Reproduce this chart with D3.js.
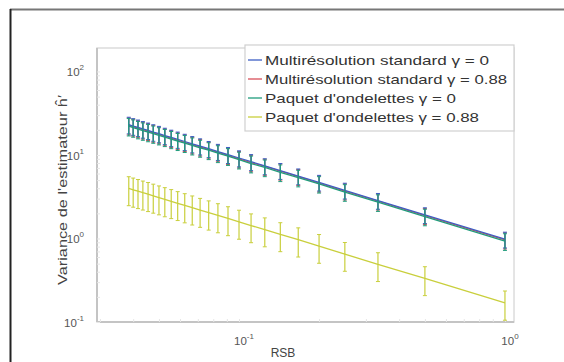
<!DOCTYPE html>
<html><head><meta charset="utf-8">
<script src="https://cdn.jsdelivr.net/npm/d3@7"></script>
<style>body{margin:0;background:#fff}svg{display:block}text{font-family:"Liberation Sans",Arial,sans-serif}</style>
</head><body><svg id="c" width="564" height="362"></svg>
<script>
const rsb = [1.0,0.5,0.333,0.25,0.2,0.167,0.143,0.125,0.111,0.1,0.0909,0.0833,0.0769,0.0714,0.0667,0.0625,0.0588,0.0556,0.0526,0.05,0.0476,0.0455,0.0435,0.0417,0.04,0.0385];
const stdG0   = [0.98,1.92,2.85,3.78,4.7,5.6,6.5,7.4,8.3,9.2,10.1,11.0,11.9,12.8,13.6,14.5,15.4,16.2,17.1,18.0,18.8,19.7,20.5,21.4,22.2,23.1];
const stdG88  = [0.96,1.88,2.8,3.7,4.6,5.5,6.4,7.3,8.1,9.0,9.9,10.8,11.6,12.5,13.3,14.2,15.0,15.9,16.7,17.6,18.4,19.3,20.1,20.9,21.8,22.6];
const wpG0    = [0.93,1.83,2.72,3.6,4.5,5.35,6.2,7.1,7.9,8.8,9.7,10.5,11.4,12.2,13.0,13.9,14.7,15.5,16.4,17.2,18.0,18.8,19.6,20.4,21.3,22.1];
const wpG88   = [0.17,0.333,0.49,0.65,0.81,0.97,1.12,1.28,1.43,1.58,1.74,1.89,2.04,2.19,2.34,2.49,2.64,2.79,2.94,3.09,3.24,3.39,3.53,3.68,3.83,3.98];
const errStd  = [0.21,0.41,0.61,0.81,1.0,1.2,1.4,1.6,1.8,2.0,2.2,2.4,2.6,2.8,3.0,3.2,3.4,3.6,3.8,4.0,4.2,4.4,4.6,4.8,5.0,5.2];
const errWp88 = [0.065,0.126,0.185,0.245,0.305,0.37,0.425,0.485,0.54,0.6,0.66,0.72,0.78,0.83,0.89,0.95,1.0,1.06,1.12,1.17,1.23,1.29,1.34,1.4,1.46,1.51];
const labels = ["Multirésolution standard \u03b3 = 0","Multirésolution standard \u03b3 = 0.88","Paquet d'ondelettes \u03b3 = 0","Paquet d'ondelettes \u03b3 = 0.88"];
const labelWidths = [224,242,191,214];
const colors = ["#3d5fc4","#d9505a","#1f9c7c","#c9cf3c"];
const yTicks = [-1,0,1,2];
const xTicks = [-1,0];

const svg = d3.select("#c");
// outer frame
svg.append("line").attr("x1",10).attr("y1",9.5).attr("x2",564).attr("y2",9.5).attr("stroke","#777").attr("stroke-width",2);
svg.append("line").attr("x1",10.5).attr("y1",9).attr("x2",10.5).attr("y2",362).attr("stroke","#222").attr("stroke-width",2);

const L=97,R=514,T=48,B=322;
const x = d3.scaleLog().domain([Math.pow(10,-1.534),Math.pow(10,0.034)]).range([L,R]);
const y = d3.scaleLog().domain([0.1,Math.pow(10,2.281)]).range([B,T]);

// box
svg.append("rect").attr("x",L).attr("y",T).attr("width",R-L).attr("height",B-T).attr("fill","none").attr("stroke","#dcdcdc").attr("stroke-width",1.5);
svg.append("line").attr("x1",L).attr("x2",L).attr("y1",T).attr("y2",B).attr("stroke","#c4c4c4").attr("stroke-width",2);
svg.append("line").attr("x1",L).attr("x2",R).attr("y1",B).attr("y2",B).attr("stroke","#c4c4c4").attr("stroke-width",2);

// axes ticks (inward, MATLAB style)
const yAxis = d3.axisRight(y).tickValues(d3.range(-1,3).flatMap(e=>d3.range(1,10).map(m=>m*Math.pow(10,e))).filter(v=>v<=y.domain()[1]))
  .tickSize(3).tickFormat("");
svg.append("g").attr("transform",`translate(${L},0)`).call(yAxis).call(g=>{g.select(".domain").remove();g.selectAll("line").attr("stroke","#e6e6e6");});
const xAxis = d3.axisTop(x).tickValues(d3.range(-2,1).flatMap(e=>d3.range(1,10).map(m=>m*Math.pow(10,e))).filter(v=>v>=x.domain()[0]&&v<=x.domain()[1]))
  .tickSize(3).tickFormat("");
svg.append("g").attr("transform",`translate(0,${B})`).call(xAxis).call(g=>{g.select(".domain").remove();g.selectAll("line").attr("stroke","#e6e6e6");});

// tick labels
yTicks.forEach(e=>{
  const t = svg.append("text").attr("x",84).attr("y",y(Math.pow(10,e))+5).attr("text-anchor","end").attr("font-size",11.5).attr("fill","#555");
  t.append("tspan").text("10");
  t.append("tspan").attr("dy",-6).attr("font-size",8).text(e);
});
xTicks.forEach(e=>{
  const t = svg.append("text").attr("x",x(Math.pow(10,e))+5).attr("y",345).attr("text-anchor","middle").attr("font-size",11.5).attr("fill","#555");
  t.append("tspan").text("10");
  t.append("tspan").attr("dy",-6).attr("font-size",8).text(e);
});
svg.append("text").attr("x",283).attr("y",357).attr("text-anchor","middle").attr("font-size",12).attr("fill","#444").text("RSB");
svg.append("text").attr("transform","translate(67,190) rotate(-90)").attr("text-anchor","middle").attr("font-size",12)
  .attr("textLength",190).attr("lengthAdjust","spacingAndGlyphs").attr("fill","#444").text("Variance de l'estimateur \u0125\u2032");

// series
const series = [
  {v:stdG0,e:errStd,c:colors[0]},
  {v:stdG88,e:errStd,c:colors[1]},
  {v:wpG0,e:errStd,c:colors[2]},
  {v:wpG88,e:errWp88,c:colors[3]}
];
const line = d3.line().x(d=>x(d[0])).y(d=>y(d[1]));
const order=[1,0,3,2];
order.forEach(i=>{
  const s=series[i];
  const pts = rsb.map((r,j)=>[r,s.v[j],s.e[j]]);
  const g = svg.append("g");
  g.append("path").attr("d",line(pts)).attr("fill","none").attr("stroke",s.c).attr("stroke-width",1.3);
  pts.forEach(p=>{
    const px=x(p[0]), y1=y(p[1]+p[2]), y2=y(Math.max(p[1]-p[2],0.01));
    g.append("line").attr("x1",px).attr("x2",px).attr("y1",y1).attr("y2",y2).attr("stroke",s.c).attr("stroke-width",1.2);
    [y1,y2].forEach(yy=>g.append("line").attr("x1",px-2).attr("x2",px+2).attr("y1",yy).attr("y2",yy).attr("stroke",s.c).attr("stroke-width",1));
  });
});

// legend
const lg = svg.append("g");
lg.append("rect").attr("x",245).attr("y",45).attr("width",269).attr("height",86).attr("fill","#fff").attr("stroke","#d0d0d0").attr("stroke-width",1.2);
labels.forEach((lab,i)=>{
  const yy = 60 + i*19;
  lg.append("line").attr("x1",248).attr("x2",262).attr("y1",yy).attr("y2",yy).attr("stroke",colors[i]).attr("stroke-width",1.3);
  lg.append("text").attr("x",265).attr("y",yy+4.5).attr("font-size",13).attr("fill","#333")
    .attr("textLength",labelWidths[i]).attr("lengthAdjust","spacingAndGlyphs").text(lab);
});
</script></body></html>
